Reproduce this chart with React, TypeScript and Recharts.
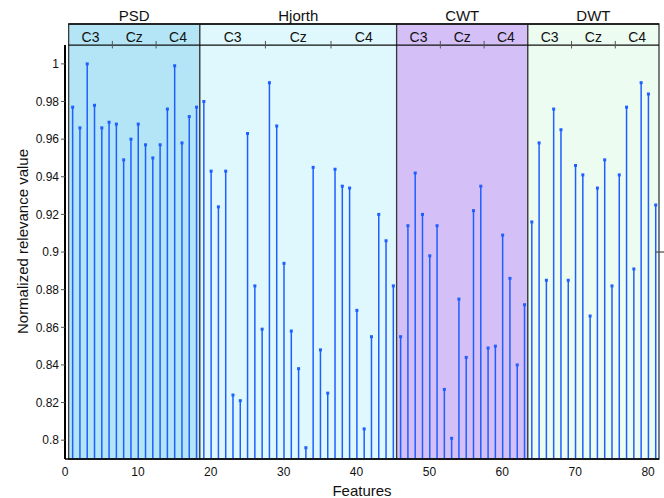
import React from 'react';
import {
  ComposedChart,
  Bar,
  XAxis,
  YAxis,
  ReferenceArea,
  ReferenceLine,
} from 'recharts';

// relevance value per feature (features 1..81)
const features = Array.from({ length: 81 }, (_, i) => i + 1);
const relevance = [
  0.977, 0.966, 1.0, 0.978, 0.966, 0.969, 0.968, 0.949, 0.960, 0.968,
  0.957, 0.950, 0.957, 0.976, 0.999, 0.958, 0.972, 0.977,
  0.980, 0.943, 0.924, 0.943, 0.824, 0.821, 0.963, 0.882, 0.859, 0.990,
  0.967, 0.894, 0.858, 0.838, 0.796, 0.945, 0.848, 0.825, 0.944, 0.935,
  0.934, 0.869, 0.806, 0.855, 0.920, 0.906, 0.882,
  0.855, 0.914, 0.942, 0.920, 0.898, 0.914, 0.827, 0.801, 0.875, 0.844,
  0.922, 0.935, 0.849, 0.850, 0.909, 0.886, 0.840, 0.872,
  0.916, 0.958, 0.885, 0.976, 0.965, 0.885, 0.946, 0.941, 0.866, 0.934,
  0.949, 0.882, 0.941, 0.977, 0.891, 0.990, 0.984, 0.925,
];

// feature groups: name, first feature, last feature, fill
const groupNames = ['PSD', 'Hjorth', 'CWT', 'DWT'];
const groupStart = [1, 19, 46, 64];
const groupEnd = [18, 45, 63, 81];
const groupFill = ['#B3E5F6', '#DFF8FD', '#D4C0F6', '#EDFCF1'];
const channels = ['C3', 'Cz', 'C4'];

const yTicks = [0.8, 0.82, 0.84, 0.86, 0.88, 0.9, 0.92, 0.94, 0.96, 0.98, 1];
const xTicks = [0, 10, 20, 30, 40, 50, 60, 70, 80];

const Y_MIN = 0.79;
const Y_PLOT_TOP = 1.01;
const Y_TOP = 1.0212;

const data = features.map((f, i) => ({ feature: f, value: relevance[i] }));

const STEM = '#1F5EFF';

function Stem(props: any) {
  const { x, y, width, height } = props;
  const cx = x + width / 2;
  return (
    <g>
      <line x1={cx} y1={y} x2={cx} y2={y + height} stroke={STEM} strokeWidth={1.5} />
      <rect x={cx - 1.5} y={y - 1.5} width={3} height={3} fill={STEM} />
    </g>
  );
}

const font = "'Liberation Sans', Arial, sans-serif";

export default function App() {
  const thirds: { x1: number; x2: number; label: string }[] = [];
  const thirdTicks: number[] = [];
  groupNames.forEach((_, g) => {
    const a = groupStart[g] - 0.5;
    const b = groupEnd[g] + 0.5;
    const w = (b - a) / 3;
    channels.forEach((c, k) => {
      thirds.push({ x1: a + k * w, x2: a + (k + 1) * w, label: c });
      if (k > 0) thirdTicks.push(a + k * w);
    });
  });

  return (
    <div style={{ position: 'absolute', left: 0, top: 0, fontFamily: font }}>
      <ComposedChart
        width={664}
        height={498}
        data={data}
        margin={{ top: 24, right: 5, left: 0, bottom: 0 }}
      >
        <XAxis
          type="number"
          dataKey="feature"
          domain={[0, 81.5]}
          ticks={xTicks}
          allowDataOverflow
          axisLine={{ stroke: '#000', strokeWidth: 1.5 }}
          tickLine={false}
          tick={{ fontSize: 12, fill: '#111', fontFamily: font }}
          height={39}
          label={{
            value: 'Features',
            position: 'insideBottom',
            offset: 2,
            style: { fontSize: 15, fill: '#111', fontFamily: font },
          }}
        />
        <YAxis
          type="number"
          domain={[Y_MIN, Y_TOP]}
          ticks={yTicks}
          allowDataOverflow
          width={65}
          axisLine={false}
          tickSize={4}
          tickLine={{ stroke: '#555' }}
          tick={{ fontSize: 12, fill: '#111', fontFamily: font }}
          label={{
            value: 'Normalized relevance value',
            angle: -90,
            position: 'insideLeft',
            offset: 23,
            style: { textAnchor: 'middle', fontSize: 15, fill: '#111', fontFamily: font },
          }}
        />
        {groupNames.map((name, g) => (
          <ReferenceArea
            key={name}
            x1={groupStart[g] - 0.5}
            x2={groupEnd[g] + 0.5}
            y1={Y_MIN}
            y2={Y_TOP}
            fill={groupFill[g]}
            fillOpacity={1}
            stroke="#3a3a3a"
            strokeWidth={1.3}
            label={{
              value: name,
              position: 'top',
              offset: 3,
              style: { fontSize: 15, fill: '#111', fontFamily: font },
            }}
          />
        ))}
        {thirds.map((t, i) => (
          <ReferenceArea
            key={`th-${i}`}
            x1={t.x1}
            x2={t.x2}
            y1={Y_PLOT_TOP}
            y2={Y_TOP}
            fillOpacity={0}
            strokeOpacity={0}
            label={{
              value: t.label,
              position: 'center',
              dy: 2,
              style: { fontSize: 14, fill: '#111', fontFamily: font },
            }}
          />
        ))}
        <ReferenceLine
          segment={[{ x: 0.5, y: Y_PLOT_TOP }, { x: 81.5, y: Y_PLOT_TOP }]}
          stroke="#111"
          strokeWidth={1.3}
        />
        <ReferenceLine
          segment={[{ x: 0.5, y: Y_TOP }, { x: 81.5, y: Y_TOP }]}
          stroke="#111"
          strokeWidth={1.3}
        />
        {thirdTicks.map((tx, i) => (
          <ReferenceLine
            key={`tt-${i}`}
            segment={[{ x: tx, y: Y_PLOT_TOP - 0.0018 }, { x: tx, y: Y_PLOT_TOP + 0.0022 }]}
            stroke="#555"
            strokeWidth={1}
          />
        ))}
        <ReferenceLine
          segment={[{ x: 0, y: Y_MIN }, { x: 0, y: Y_PLOT_TOP }]}
          stroke="#000"
          strokeWidth={2}
        />
        <ReferenceLine
          segment={[{ x: 81.0, y: 0.9 }, { x: 82.2, y: 0.9 }]}
          stroke="#555"
          strokeWidth={1.3}
          ifOverflow="visible"
        />
        <Bar
          dataKey="value"
          barSize={4}
          shape={<Stem />}
          isAnimationActive={false}
        />
      </ComposedChart>
    </div>
  );
}
